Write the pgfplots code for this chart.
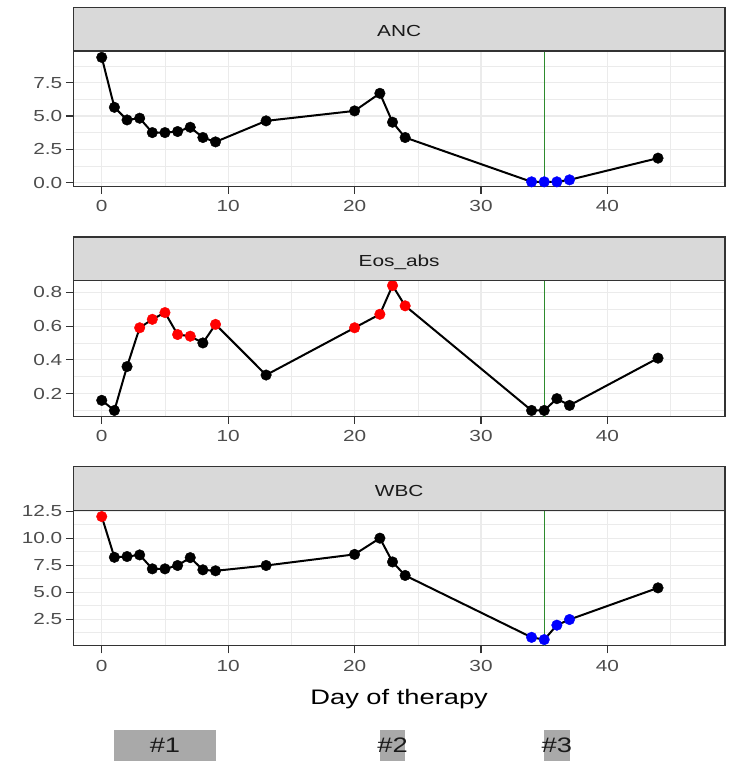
\documentclass[border=0pt]{standalone}
\usepackage{fontspec}
\setmainfont{Liberation Sans}[FakeStretch=1.3]
\usepackage{pgfplots}
\usepackage{pgfplotstable}
\pgfplotsset{compat=1.18}

\definecolor{g10}{HTML}{1A1A1A}
\definecolor{g20}{HTML}{333333}
\definecolor{g30}{HTML}{4D4D4D}
\definecolor{g85}{HTML}{D9D9D9}
\definecolor{g92}{HTML}{EBEBEB}
\definecolor{boxgray}{HTML}{A9A9A9}
\definecolor{vgreen}{HTML}{2E8B2E}

% day, value and point colour class (k black, r red, b blue) for each panel
\pgfplotstableread{
day anc ca  eos  ce wbc   cw
0   9.40 k  0.16 k  12.00 r
1   5.65 k  0.10 k  8.23  k
2   4.70 k  0.36 k  8.30  k
3   4.83 k  0.59 r  8.45  k
4   3.75 k  0.64 r  7.16  k
5   3.75 k  0.68 r  7.16  k
6   3.83 k  0.55 r  7.47  k
7   4.15 k  0.54 r  8.20  k
8   3.38 k  0.50 k  7.07  k
9   3.05 k  0.61 r  6.98  k
13  4.63 k  0.31 k  7.47  k
20  5.38 k  0.59 r  8.50  k
22  6.70 k  0.67 r  10.00 k
23  4.53 k  0.84 r  7.80  k
24  3.38 k  0.72 r  6.55  k
34  0.05 b  0.10 k  0.82  b
35  0.05 b  0.10 k  0.61  b
36  0.05 b  0.17 k  1.95  b
37  0.20 b  0.13 k  2.47  b
44  1.83 k  0.41 k  5.40  k
}\labs

\pgfplotsset{
  panel/.style={
    at={(73.3pt,#1)}, anchor=south west,
    scale only axis, width=651.7pt, height=135.5pt,
    xmin=-2.25, xmax=49.3,
    xtick={0,10,20,30,40}, minor xtick={5,15,25,35,45},
    grid=both,
    major grid style={color=g92, line width=1.1pt},
    minor grid style={color=g92, line width=0.55pt},
    axis line style={g20, line width=1.1pt},
    tick style={g20, line width=1.1pt},
    major tick length=7.5pt, minor tick length=0pt,
    tick align=outside, xtick pos=bottom, ytick pos=left,
    ticklabel style={font=\fontsize{16}{16}\selectfont, text=g30},
    xticklabel style={yshift=-3pt},
    /pgf/number format/assume math mode=true,
    yticklabel style={/pgf/number format/.cd, fixed, fixed zerofill, precision=1},
    scaled y ticks=false,
  },
  pts/.style={
    scatter, only marks, scatter src=explicit symbolic, mark size=5.3pt,
    scatter/classes={
      k={mark=*, draw=black, fill=black},
      r={mark=*, draw=red, fill=red},
      b={mark=*, draw=blue, fill=blue}},
  },
}
\tikzset{strip/.style={fill=g85, draw=g20, line width=1.1pt}}

\begin{document}
\begin{tikzpicture}
\useasboundingbox (0,0) rectangle (730pt,761pt);

% ANC
\begin{axis}[name=ax1, panel=574.5pt, ymin=-0.3, ymax=9.88,
    ytick={0,2.5,5,7.5}, minor ytick={1.25,3.75,6.25,8.75}]
\addplot[vgreen, line width=1.3pt] coordinates {(35,-1) (35,11)};
\addplot[black, line width=2pt, no marks] table[x=day, y=anc] {\labs};
\addplot[pts] table[x=day, y=anc, meta=ca] {\labs};
\end{axis}
\draw[strip] (ax1.north west) rectangle ([yshift=43.7pt]ax1.north east);
\node[anchor=base, font=\fontsize{16}{16}\selectfont, text=g10] at ([yshift=14.3pt]ax1.north) {ANC};

% Eos_abs
\begin{axis}[name=ax2, panel=344.8pt, ymin=0.066, ymax=0.869,
    ytick={0.2,0.4,0.6,0.8}, minor ytick={0.1,0.3,0.5,0.7}]
\addplot[vgreen, line width=1.3pt] coordinates {(35,0) (35,1)};
\addplot[black, line width=2pt, no marks] table[x=day, y=eos] {\labs};
\addplot[pts] table[x=day, y=eos, meta=ce] {\labs};
\end{axis}
\draw[strip] (ax2.north west) rectangle ([yshift=43.7pt]ax2.north east);
\node[anchor=base, font=\fontsize{16}{16}\selectfont, text=g10] at ([yshift=14.3pt]ax2.north) {Eos\_abs};

% WBC
\begin{axis}[name=ax3, panel=115.1pt, ymin=0.03, ymax=12.57,
    ytick={2.5,5,7.5,10,12.5}, minor ytick={1.25,3.75,6.25,8.75,11.25},
    xlabel={Day of therapy},
    xlabel style={font=\fontsize{21}{21}\selectfont, text=black,
      at={(axis description cs:0.5,0)}, anchor=base, yshift=-59pt}]
\addplot[vgreen, line width=1.3pt] coordinates {(35,-1) (35,14)};
\addplot[black, line width=2pt, no marks] table[x=day, y=wbc] {\labs};
\addplot[pts] table[x=day, y=wbc, meta=cw] {\labs};
\end{axis}
\draw[strip] (ax3.north west) rectangle ([yshift=43.7pt]ax3.north east);
\node[anchor=base, font=\fontsize{16}{16}\selectfont, text=g10] at ([yshift=14.3pt]ax3.north) {WBC};

% cycle boxes below the axis
\begin{axis}[at={(73.3pt,-10pt)}, anchor=south west, scale only axis,
    width=651.7pt, height=41pt, xmin=-2.25, xmax=49.3, ymin=0, ymax=1,
    hide axis, clip=false]
\addplot[fill=boxgray, draw=none] coordinates {(1,0) (9,0) (9,1) (1,1)} -- cycle;
\addplot[fill=boxgray, draw=none] coordinates {(22,0) (24,0) (24,1) (22,1)} -- cycle;
\addplot[fill=boxgray, draw=none] coordinates {(35,0) (37,0) (37,1) (35,1)} -- cycle;
\node[anchor=base, font=\fontsize{21}{21}\selectfont, text=g10] at (axis cs:5,0.44) {\#1};
\node[anchor=base, font=\fontsize{21}{21}\selectfont, text=g10] at (axis cs:23,0.44) {\#2};
\node[anchor=base, font=\fontsize{21}{21}\selectfont, text=g10] at (axis cs:36,0.44) {\#3};
\end{axis}
\end{tikzpicture}
\end{document}
